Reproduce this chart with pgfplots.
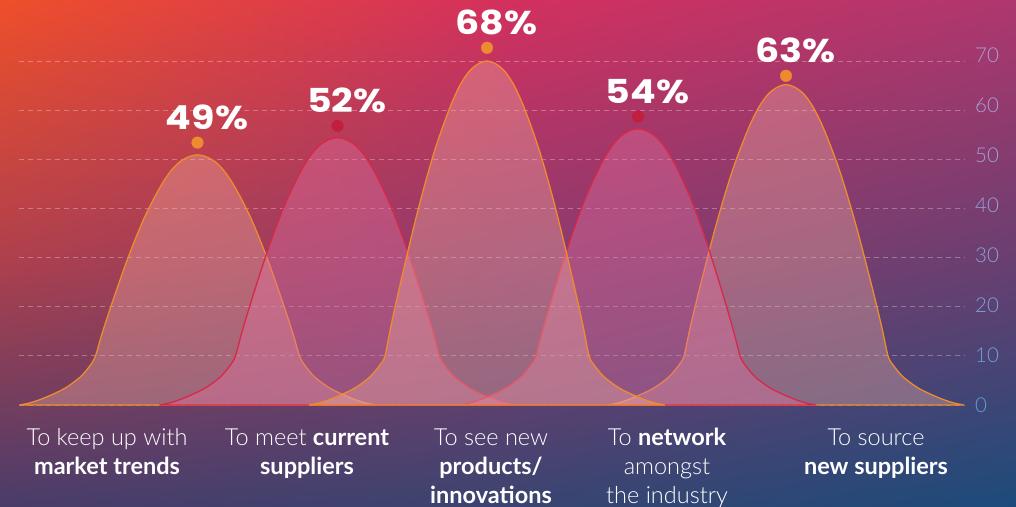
\documentclass[border=0pt]{standalone}
\usepackage{fontspec}
\setmainfont{Lato}[UprightFont=* Light, BoldFont=* Bold]
\newfontfamily\pctfont{Poppins}[FakeStretch=1.15]
\usepackage{pgfplots}
\pgfplotsset{compat=1.18}
\usepackage{pgfplotstable}
\usetikzlibrary{shadings}

\definecolor{bgA}{HTML}{EE4F2A}
\definecolor{bgB}{HTML}{D3305E}
\definecolor{bgC}{HTML}{AE376E}
\definecolor{bgD}{HTML}{B0404C}
\definecolor{bgE}{HTML}{8E3A6E}
\definecolor{bgF}{HTML}{6A3F70}
\definecolor{bgG}{HTML}{4A3C6A}
\definecolor{bgH}{HTML}{3A4470}
\definecolor{bgI}{HTML}{1C4B7B}
\definecolor{lnO}{HTML}{EE8B2C}
\definecolor{lnR}{HTML}{D8284A}
\definecolor{fillO}{HTML}{FBB6A5}
\definecolor{fillR}{HTML}{E2719F}
\definecolor{dotO}{HTML}{EE8A30}
\definecolor{dotR}{HTML}{C41E3E}
\definecolor{tkTop}{HTML}{A9A0D4}
\definecolor{tkBot}{HTML}{5E9FDC}

\pgfplotstableread{
t v1 v2 v3 v4 v5
-1 0 0 0 0 0
-0.95 0.35 0.35 0.35 0.35 0.35
-0.9 0.9 0.9 0.9 0.9 0.9
-0.85 1.6 1.6 1.6 1.6 1.6
-0.8 2.4 2.4 2.4 2.4 2.4
-0.75 3.3 3.3 3.3 3.3 3.3
-0.7 4.5 4.5 4.5 4.5 4.5
-0.65 6.0 6.0 6.0 6.0 6.0
-0.6 8.2 8.2 8.2 8.2 8.2
-0.573 10 10 10 10 10
-0.54 14.09 14.44 16.0 14.62 15.52
-0.5 18.59 19.32 22.6 19.70 21.59
-0.45 23.91 25.10 30.4 25.71 28.77
-0.4 29.02 30.65 37.9 31.48 35.67
-0.35 33.72 35.75 44.8 36.80 42.02
-0.3 38.02 40.41 51.1 41.65 47.81
-0.25 41.70 44.41 56.5 45.81 52.78
-0.2 44.97 47.96 61.3 49.50 57.20
-0.15 47.63 50.85 65.2 52.50 60.78
-0.1 49.47 52.85 67.9 54.58 63.27
-0.05 50.49 53.96 69.4 55.74 64.65
0 50.9 54.4 70.0 56.2 65.2
0.05 50.49 53.96 69.4 55.74 64.65
0.1 49.47 52.85 67.9 54.58 63.27
0.15 47.63 50.85 65.2 52.50 60.78
0.2 44.97 47.96 61.3 49.50 57.20
0.25 41.70 44.41 56.5 45.81 52.78
0.3 38.02 40.41 51.1 41.65 47.81
0.35 33.72 35.75 44.8 36.80 42.02
0.4 29.02 30.65 37.9 31.48 35.67
0.45 23.91 25.10 30.4 25.71 28.77
0.5 18.59 19.32 22.6 19.70 21.59
0.54 14.09 14.44 16.0 14.62 15.52
0.573 10 10 10 10 10
0.6 8.2 8.2 8.2 8.2 8.2
0.65 6.0 6.0 6.0 6.0 6.0
0.7 4.5 4.5 4.5 4.5 4.5
0.75 3.3 3.3 3.3 3.3 3.3
0.8 2.4 2.4 2.4 2.4 2.4
0.85 1.6 1.6 1.6 1.6 1.6
0.9 0.9 0.9 0.9 0.9 0.9
0.95 0.35 0.35 0.35 0.35 0.35
1 0 0 0 0 0
}\curves

\begin{document}
\begin{tikzpicture}[x=1pt,y=1pt]
\shade[upper left=bgA, upper right=bgB, lower left=bgD, lower right=bgE] (0,252.5) rectangle (508.5,506);
\shade[upper left=bgB, upper right=bgC, lower left=bgE, lower right=bgF] (508,252.5) rectangle (1016,506);
\shade[upper left=bgD, upper right=bgE, lower left=bgG, lower right=bgH] (0,0) rectangle (508.5,253);
\shade[upper left=bgE, upper right=bgF, lower left=bgH, lower right=bgI] (508,0) rectangle (1016,253);
\path[use as bounding box] (0,0) rectangle (1016,506);
\begin{axis}[
  at={(19pt,101pt)}, anchor=south west, scale only axis,
  width=946pt, height=368.55pt,
  xmin=19, xmax=965, ymin=0, ymax=75,
  clip=false,
  axis line style={draw=none},
  major tick length=0pt,
  tick style={draw=none},
  ymajorgrids,
  grid style={white, opacity=0.3, dash pattern=on 4.5pt off 4.5pt, line width=0.9pt},
  ytick={0,10,...,70},
  yticklabels={},
  yticklabel pos=right,
  extra y ticks={0,10.175,20.35,30.53,40.70,50.88,61.05,71.23},
  extra y tick labels={{\color{tkBot}0},{\color{tkTop!25!tkBot}10},{\color{tkTop!45!tkBot}20},{\color{tkTop!62!tkBot}30},{\color{tkTop!76!tkBot}40},{\color{tkTop!87!tkBot}50},{\color{tkTop!95!tkBot}60},{\color{tkTop}70}},
  extra y tick style={grid=none},
  yticklabel style={font=\fontsize{20.5}{24}\selectfont, anchor=west, inner sep=0pt, xshift=10pt},
  xtick={107,307,491,667,876},
  xticklabels={
    {\strut To keep up with\\\textbf{market trends}},
    {\strut To meet \textbf{current}\\\textbf{suppliers}},
    {\strut To see new\\\textbf{products/}\\\textbf{innovations}},
    {\strut To \textbf{network}\\amongst\\the industry},
    {\strut To source\\\textbf{new suppliers}}},
  xticklabel style={font=\fontsize{23.5}{29}\selectfont, text=white, align=center, anchor=north, inner sep=0pt, yshift=-19.7pt},
]
\addplot[draw=lnO, line width=1.3pt, fill=fillO, fill opacity=0.35, smooth] table[x expr=\thisrow{t}*178+197.5, y=v1]{\curves} \closedcycle;
\addplot[draw=lnR, line width=1.3pt, fill=fillR, fill opacity=0.4, smooth] table[x expr=\thisrow{t}*178+337.5, y=v2]{\curves} \closedcycle;
\addplot[draw=lnO, line width=1.3pt, fill=fillO, fill opacity=0.35, smooth] table[x expr=\thisrow{t}*178+786, y=v5]{\curves} \closedcycle;
\addplot[draw=lnR, line width=1.3pt, fill=fillR, fill opacity=0.4, smooth] table[x expr=\thisrow{t}*178+638, y=v4]{\curves} \closedcycle;
\addplot[draw=lnO, line width=1.3pt, fill=fillO, fill opacity=0.35, smooth] table[x expr=\thisrow{t}*178+487, y=v3]{\curves} \closedcycle;
\addplot[only marks, color=dotO, mark=*, mark size=5.8pt, mark options={fill=dotO, draw=dotO},
  point meta=explicit symbolic, nodes near coords,
  every node near coord/.append style={anchor=base, xshift=9.5pt, yshift=13.5pt, inner sep=0pt, text=white, font=\pctfont\fontsize{33}{33}\selectfont\bfseries}]
  coordinates {(197.5,53.4) [49\%] (487,72.7) [68\%] (786,67.0) [63\%]};
\addplot[only marks, color=dotR, mark=*, mark size=5.8pt, mark options={fill=dotR, draw=dotR},
  point meta=explicit symbolic, nodes near coords,
  every node near coord/.append style={anchor=base, xshift=9.5pt, yshift=13.5pt, inner sep=0pt, text=white, font=\pctfont\fontsize{33}{33}\selectfont\bfseries}]
  coordinates {(337.5,56.8) [52\%] (638,58.7) [54\%]};
\end{axis}
\end{tikzpicture}
\end{document}
